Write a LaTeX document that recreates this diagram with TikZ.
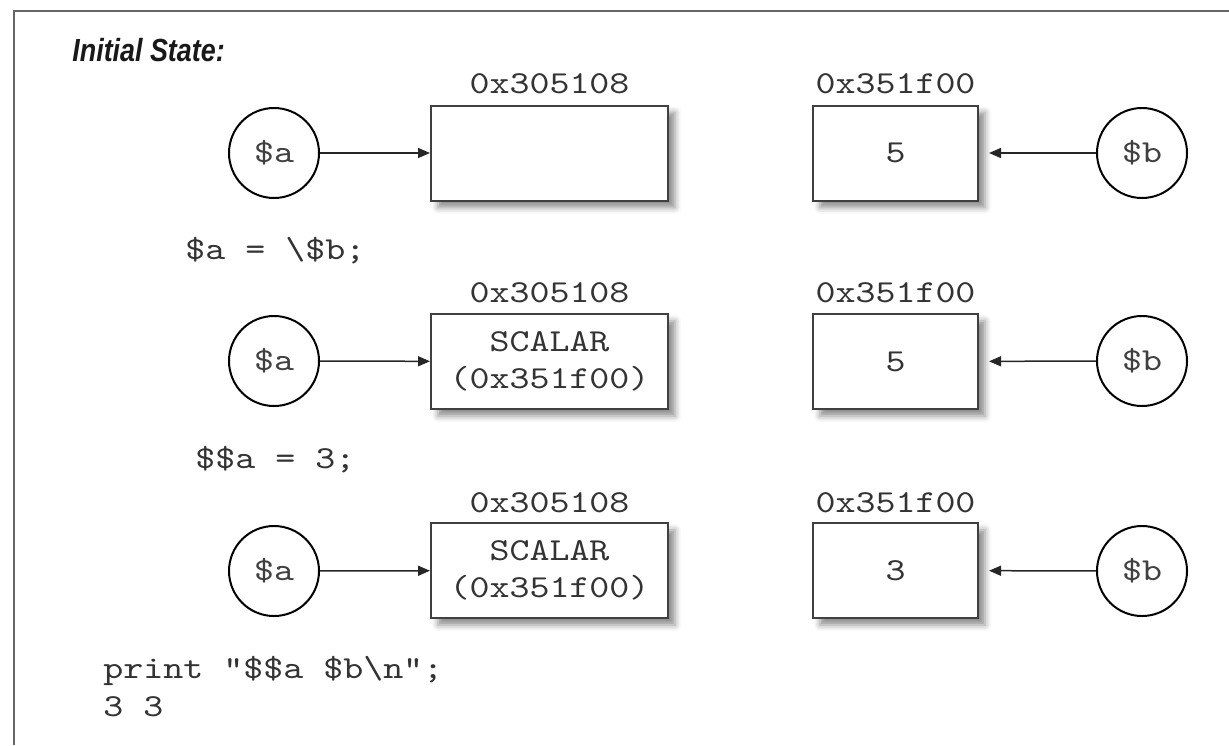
\documentclass[tikz,border=0pt]{standalone}
\usepackage{fontspec}
\usetikzlibrary{arrows.meta,shadows.blur}
\newfontfamily\codefont{lmmono10-regular}[Extension=.otf,FakeStretch=1.19]
\newfontfamily\headfont{Liberation Sans}[FakeStretch=0.84]
\begin{document}
\begin{tikzpicture}[x=0.5pt,y=-0.5pt,
  codetext/.style={font=\codefont\fontsize{16pt}{18.5pt}\selectfont, inner sep=0pt, text=black!80},
  var/.style={circle, draw=black, line width=1pt, minimum size=45pt, inner sep=0pt, text=black!75,
    font=\codefont\fontsize{16pt}{18.5pt}\selectfont},
  mem/.style={rectangle, draw=black!75, line width=1pt, fill=white, minimum height=47.5pt,
    inner sep=0pt, align=center, text=black!80, font=\codefont\fontsize{16pt}{18.5pt}\selectfont,
    blur shadow={shadow xshift=3.5pt, shadow yshift=-3.5pt, shadow blur radius=3pt, shadow opacity=45}},
  widebox/.style={mem, minimum width=118.5pt},
  narrowbox/.style={mem, minimum width=82.5pt},
  ptr/.style={draw=black!85, line width=0.75pt, -{Triangle[length=6pt,width=5pt]}},
  frameline/.style={draw=black!60, line width=1pt},
]
\useasboundingbox (0,0) rectangle (1229,745);
\draw[frameline] (1229,11) -- (14,11) -- (14,745);

\node[anchor=base west, inner sep=0pt, text=black!90, font=\headfont\bfseries\itshape\fontsize{16pt}{18pt}\selectfont] (title) at (72,61) {Initial State:};

% row 1
\node[var] (a1) at (274,153) {\$a};
\node[widebox] (m1) at (549.5,153) {};
\node[narrowbox] (n1) at (895.5,153) {5};
\node[var] (b1) at (1142,153) {\$b};
\node[codetext, anchor=base] (la1) at (549.5,93) {0x305108};
\node[codetext, anchor=base] (lb1) at (895.5,93) {0x351f00};
\draw[ptr] (a1) -- (m1);
\draw[ptr, shorten >=5pt] (b1) -- (n1);

\node[codetext, anchor=base west] (s1) at (185,259) {\$a = \textbackslash\$b;};

% row 2
\node[var] (a2) at (274,361) {\$a};
\node[widebox] (m2) at (549.5,361.5) {SCALAR\\(0x351f00)};
\node[narrowbox] (n2) at (895.5,361.5) {5};
\node[var] (b2) at (1142,361) {\$b};
\node[codetext, anchor=base] (la2) at (549.5,302) {0x305108};
\node[codetext, anchor=base] (lb2) at (895.5,302) {0x351f00};
\draw[ptr] (a2) -- (m2);
\draw[ptr, shorten >=5pt] (b2) -- (n2);

\node[codetext, anchor=base west] (s2) at (195,468) {\$\$a = 3;};

% row 3
\node[var] (a3) at (274,571) {\$a};
\node[widebox] (m3) at (549.5,570.5) {SCALAR\\(0x351f00)};
\node[narrowbox] (n3) at (895.5,570.5) {3};
\node[var] (b3) at (1142,571) {\$b};
\node[codetext, anchor=base] (la3) at (549.5,512) {0x305108};
\node[codetext, anchor=base] (lb3) at (895.5,512) {0x351f00};
\draw[ptr] (a3) -- (m3);
\draw[ptr, shorten >=5pt] (b3) -- (n3);

\node[codetext, anchor=base west] (p1) at (103,678) {print "\$\$a \$b\textbackslash n";};
\node[codetext, anchor=base west] (p2) at (103,716) {3 3};
\end{tikzpicture}
\end{document}
